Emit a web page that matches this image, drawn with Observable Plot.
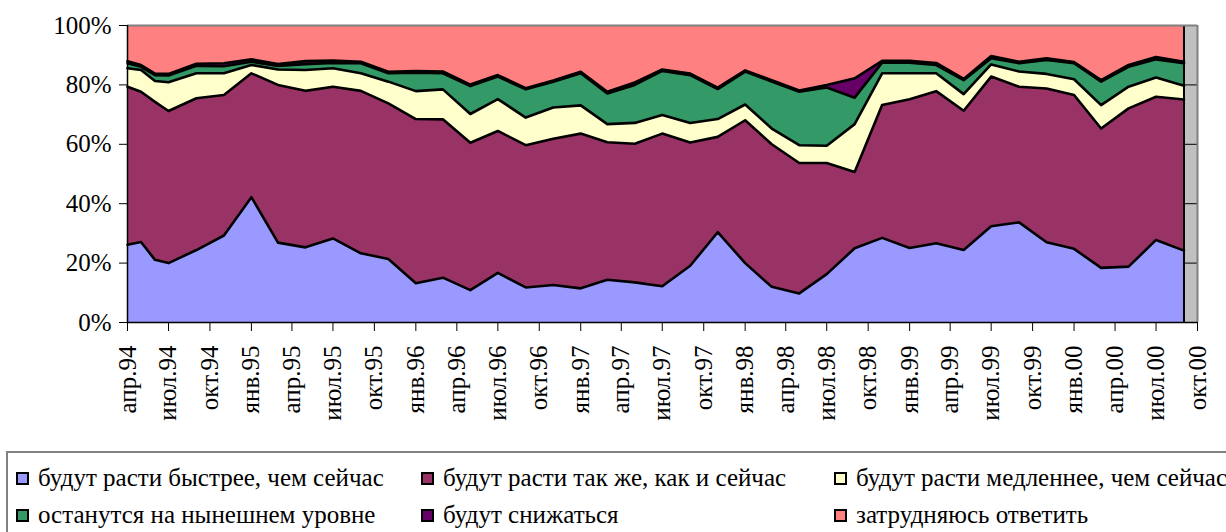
<!DOCTYPE html>
<html>
<head>
<meta charset="utf-8">
<script src="https://cdn.jsdelivr.net/npm/d3@7"></script>
<script src="https://cdn.jsdelivr.net/npm/@observablehq/plot@0.6"></script>
<style>
  body { margin: 0; background: #fff; font-family: "Liberation Serif", "Times New Roman", serif; }
  #wrap { position: relative; width: 1226px; height: 532px; overflow: hidden; }
  #legend { position: absolute; left: 6px; top: 451px; width: 1240px; height: 100px;
            border: 2px solid #808080; box-sizing: border-box; }
  .item { position: absolute; display: flex; align-items: center; height: 36px;
          font-size: 25px; color: #000; white-space: nowrap; }
  .sw { width: 9px; height: 9px; border: 2px solid #000; margin-right: 9px; flex: none; }
</style>
</head>
<body>
<div id="wrap">
  <div id="chart"></div>
  <div id="legend"></div>
</div>
<script>
// ---- data (percent of respondents) ----
const dates = ["1994-04","1994-05","1994-06","1994-07","1994-09","1994-11","1995-01","1995-03","1995-05","1995-07","1995-09","1995-11",
  "1996-01","1996-03","1996-05","1996-07","1996-09","1996-11","1997-01","1997-03","1997-05","1997-07","1997-09","1997-11",
  "1998-01","1998-03","1998-05","1998-07","1998-09","1998-11","1999-01","1999-03","1999-05","1999-07","1999-09","1999-11",
  "2000-01","2000-03","2000-05","2000-07","2000-09"];

const seriesNames = ["будут расти быстрее, чем сейчас", "будут расти так же, как и сейчас", "будут расти медленнее, чем сейчас",
  "останутся на нынешнем уровне", "будут снижаться", "затрудняюсь ответить"];
const seriesColors = ["#9999FF", "#993366", "#FFFFCC", "#339966", "#660066", "#FF8080"];

const faster = [26.2,27.1,21.1,20.0,24.4,29.3,42.2,26.9,25.3,28.3,23.3,21.4,13.2,15.1,10.9,16.7,11.8,12.6,11.5,14.4,13.5,12.2,19.1,30.4,20.0,12.0,9.8,16.3,25.0,28.5,25.1,26.7,24.4,32.4,33.7,27.0,24.8,18.4,18.8,27.8,24.2];
const same   = [53.2,50.6,53.2,51.2,51.1,47.3,41.7,53.1,52.7,51.1,54.7,52.4,55.3,53.3,49.6,47.8,47.9,49.3,52.1,46.3,46.7,51.4,41.5,32.1,48.1,48.0,43.9,37.4,25.7,44.7,50.1,51.2,46.9,50.4,45.7,51.8,51.8,46.9,53.3,48.2,50.9];
const slower = [6.2,7.3,7.0,9.7,8.4,7.3,2.8,5.2,7.0,6.2,5.9,7.3,9.4,10.1,9.7,10.7,9.3,10.5,9.5,6.1,7.0,6.3,6.6,6.0,5.3,5.3,6.0,5.8,16.1,10.7,8.7,6.0,5.6,4.1,5.1,4.9,5.3,7.9,7.3,6.5,4.6];
const steady = [1.7,1.1,2.0,2.3,2.5,2.4,1.1,1.2,2.0,1.8,3.4,2.8,6.2,5.4,9.4,7.6,9.5,8.7,10.8,10.3,12.8,14.8,16.1,10.1,11.1,15.8,18.0,19.6,8.9,3.6,3.6,2.8,4.7,2.1,2.8,4.7,5.4,7.9,6.7,6.1,7.6];
const decline= [0.7,0.6,0.5,0.5,0.7,1.0,0.8,0.6,1.0,0.8,0.5,0.5,0.6,0.6,0.5,0.5,0.4,0.4,0.5,0.6,0.8,0.5,0.5,0.5,0.4,0.5,0.4,0.9,6.5,0.6,0.6,0.7,0.4,0.7,0.5,0.6,0.4,0.5,0.6,0.8,0.5];
const unsure = [12.0,13.3,16.2,16.3,12.9,12.7,11.4,13.0,12.0,11.8,12.2,15.6,15.3,15.5,19.9,16.7,21.1,18.5,15.6,22.3,19.2,14.8,16.2,20.9,15.1,18.4,21.9,20.0,17.8,11.9,11.9,12.6,18.0,10.3,12.2,11.0,12.3,18.4,13.3,10.6,12.2];

const tickLabels = ["апр.94","июл.94","окт.94","янв.95","апр.95","июл.95","окт.95","янв.96","апр.96","июл.96","окт.96","янв.97","апр.97",
  "июл.97","окт.97","янв.98","апр.98","июл.98","окт.98","янв.99","апр.99","июл.99","окт.99","янв.00","апр.00","июл.00","окт.00"];
const yTicks = [0, 20, 40, 60, 80, 100];

// ---- build table ----
const parse = d3.utcParse("%Y-%m");
const allSeries = [faster, same, slower, steady, decline, unsure];
const rows = [];
dates.forEach((d, i) => {
  allSeries.forEach((s, k) => rows.push({date: parse(d), series: seriesNames[k], value: s[i]}));
});
const xStart = parse("1994-04");
const tickDates = tickLabels.map((_, i) => d3.utcMonth.offset(xStart, 3 * i));
const xEnd = tickDates[tickDates.length - 1];
const lastDate = parse(dates[dates.length - 1]);

const chart = Plot.plot({
  width: 1226,
  height: 445,
  marginLeft: 127,
  marginRight: 29,
  marginTop: 25,
  marginBottom: 123,
  style: {fontFamily: "'Liberation Serif', 'Times New Roman', serif", fontSize: "25px", color: "#000", background: "#fff"},
  x: {type: "utc", domain: [xStart, xEnd]},
  y: {domain: [0, 100]},
  color: {domain: seriesNames, range: seriesColors},
  marks: [
    Plot.frame({fill: "#c0c0c0", stroke: null}),
    Plot.ruleY([20, 40, 60, 80], {stroke: "#000", strokeWidth: 1}),
    Plot.areaY(rows, {x: "date", y: "value", z: "series", fill: "series", order: seriesNames}),
    Plot.lineY(rows, Plot.stackY2({x: "date", y: "value", z: "series", order: seriesNames,
      filter: d => d.series !== seriesNames[5], stroke: "#000", strokeWidth: 2.6})),
    Plot.ruleX([lastDate], {stroke: "#000", strokeWidth: 2}),
    Plot.ruleY([100], {stroke: "#808080", strokeWidth: 2}),
    Plot.ruleX([xEnd], {stroke: "#808080", strokeWidth: 2}),
    Plot.ruleX([xStart], {stroke: "#000", strokeWidth: 1.5}),
    Plot.ruleY([0], {stroke: "#000", strokeWidth: 1.5}),
    Plot.axisY({ticks: yTicks, tickFormat: d => d + "%", tickSize: 8, tickPadding: 8, label: null, fontSize: 25}),
    Plot.axisX({ticks: tickDates, tickFormat: (d, i) => tickLabels[i], tickRotate: -90, tickSize: 9, tickPadding: 14, label: null, fontSize: 25})
  ]
});
document.getElementById("chart").appendChild(chart);

// ---- legend ----
const legendPos = [[16, 460], [421, 460], [834, 460], [16, 497], [421, 497], [834, 497]];
const wrap = document.getElementById("wrap");
seriesNames.forEach((name, k) => {
  const it = document.createElement("div");
  it.className = "item";
  it.style.left = legendPos[k][0] + "px";
  it.style.top = legendPos[k][1] + "px";
  const sw = document.createElement("span");
  sw.className = "sw";
  sw.style.background = seriesColors[k];
  const tx = document.createElement("span");
  tx.textContent = name;
  it.appendChild(sw);
  it.appendChild(tx);
  wrap.appendChild(it);
});
</script>
</body>
</html>
